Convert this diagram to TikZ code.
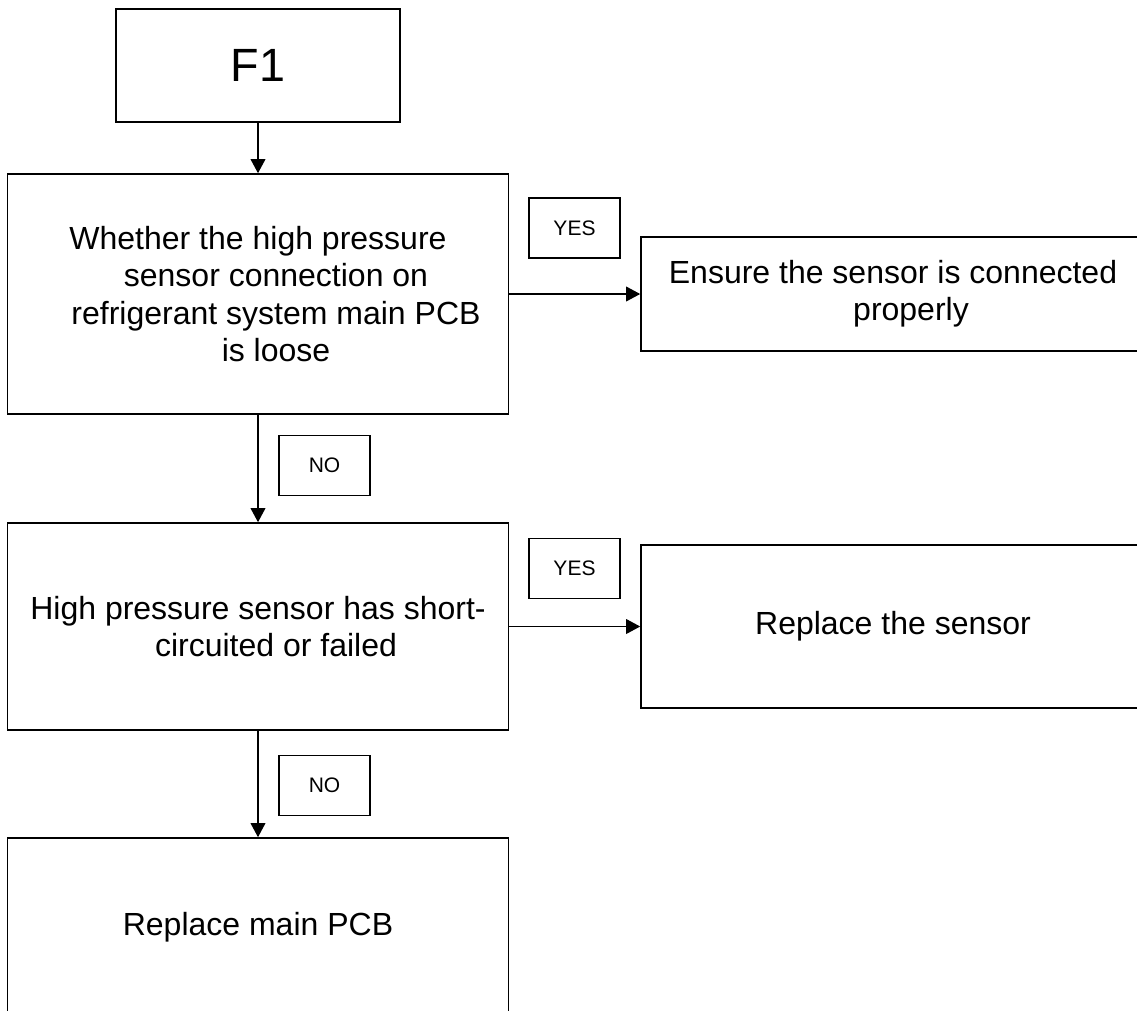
\documentclass[tikz,border=0pt]{standalone}
\usepackage{fontspec}
\setmainfont{Liberation Sans}
\usepackage{tikz}
\usetikzlibrary{arrows.meta,positioning}
\newcommand{\shiftln}{\hspace*{27pt}}

\begin{document}
\begin{tikzpicture}[x=0.75pt,y=-0.75pt,
    stepbox/.style={draw=black, line width=1.2pt, rectangle, inner sep=0pt, align=center,
      font=\fontsize{24}{28}\selectfont},
    answer/.style={draw=black, line width=1pt, rectangle, inner sep=0pt,
      minimum width=68.25pt, minimum height=45pt, font=\fontsize{15.75}{18}\selectfont},
    flow/.style={-{Triangle[length=10.5pt,width=11pt]}, line width=1pt}]
        % page
        \useasboundingbox (0,0) rectangle (1137,1010);
        \clip (0,0) rectangle (1137,1010);
        % Draw the boxes
        \node[stepbox, minimum width=213pt, minimum height=84.75pt,
          font=\fontsize{35}{42}\selectfont] (f1) at (258,65.5) {F1};
        \node[stepbox, minimum width=375.75pt, minimum height=180pt] (q1) at (258,294)
          {Whether the high pressure\\ \shiftln sensor connection on\\
           \shiftln refrigerant system main PCB\\ \shiftln is loose};
        \node[stepbox, minimum width=378pt, minimum height=85.5pt] (a1) at (893,294)
          {Ensure the sensor is connected\\ \shiftln properly};
        \node[stepbox, minimum width=375.75pt, minimum height=155.25pt] (q2) at (258,626.5)
          {High pressure sensor has short-\\ \shiftln circuited or failed};
        \node[stepbox, minimum width=378pt, minimum height=122.25pt] (a2) at (893,626.5)
          {Replace the sensor};
        \node[stepbox, minimum width=375.75pt, minimum height=133.5pt] (a3) at (258,927)
          {Replace main PCB};
        % YES / NO
        \node[answer] (yes1) at (574.5,228) {YES};
        \node[answer] (no1) at (324.5,465.5) {NO};
        \node[answer] (yes2) at (574.5,568.5) {YES};
        \node[answer] (no2) at (324.5,785.5) {NO};
        % arrows
        \draw[flow] (f1) -- (q1);
        \draw[flow] (q1) -- (a1);
        \draw[flow] (q1) -- (q2);
        \draw[flow] (q2) -- (a2);
        \draw[flow] (q2) -- (a3);
\end{tikzpicture}
\end{document}
